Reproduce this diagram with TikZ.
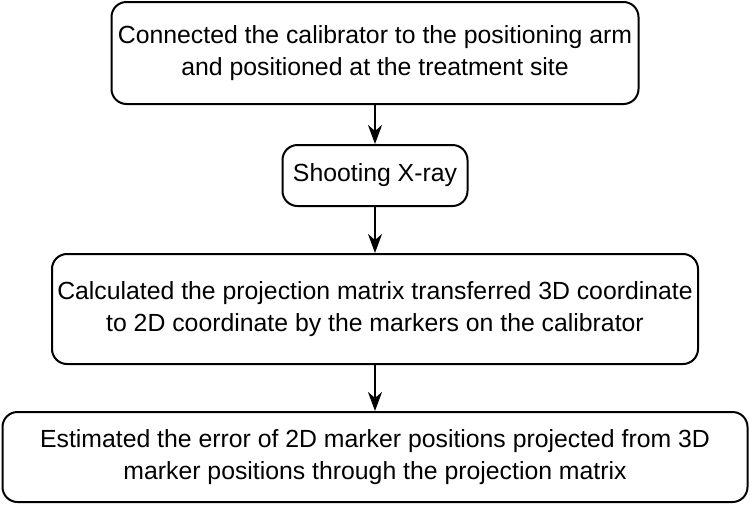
\documentclass[tikz,border=0pt]{standalone}
\usepackage{fontspec}
\setmainfont{Liberation Sans}
\usetikzlibrary{positioning}
\usetikzlibrary{arrows.meta}
\tikzset{
    mybox/.style = {rectangle, rounded corners=15pt, line width=2pt, draw=black, align=center, fill=white, inner sep=0pt, font=\fontsize{24.8}{32}\selectfont, text=black},
    edgen/.style = {-{Stealth[length=19pt, width=14pt, inset=6pt]}, line width=2pt, black}
}
\begin{document}
\begin{tikzpicture}[x=1pt, y=1pt]
  \useasboundingbox (0,0) rectangle (750,-504);
  \node[mybox, minimum width=527pt, minimum height=102pt] (connect) at (375,-53)
    {Connected the calibrator to the positioning arm\\and positioned at the treatment site};
  \node[mybox, minimum width=185pt, minimum height=61pt] (shoot) at (375,-175.5)
    {Shooting X-ray};
  \node[mybox, minimum width=646pt, minimum height=110pt] (calc) at (375,-309)
    {Calculated the projection matrix transferred 3D coordinate\\to 2D coordinate by the markers on the calibrator};
  \node[mybox, minimum width=745pt, minimum height=90pt] (error) at (375,-457)
    {Estimated the error of 2D marker positions projected from 3D\\marker positions through the projection matrix};
  \draw[edgen] (connect) -- (shoot);
  \draw[edgen] (shoot) -- (calc);
  \draw[edgen] (calc) -- (error);
\end{tikzpicture}
\end{document}
